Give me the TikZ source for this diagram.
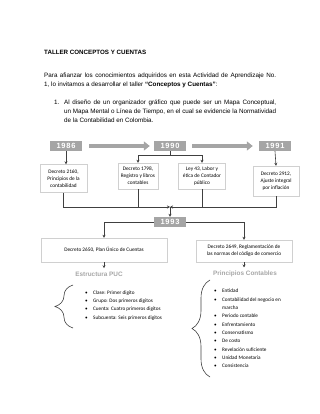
\documentclass[tikz,border=0pt]{standalone}
\usepackage{fontspec}
\setmainfont{Liberation Sans}
\newfontfamily\boxfont{Carlito}
\usetikzlibrary{arrows.meta,decorations.pathreplacing}
\definecolor{yeargray}{HTML}{A5A5A5}
\definecolor{linkgray}{HTML}{404040}
\definecolor{boxline}{HTML}{D0D0D0}
\definecolor{headgray}{HTML}{A6A6A6}
\newcommand{\bul}{\makebox[8pt][l]{\textbullet}}
\tikzset{
  year/.style={
    fill=yeargray,
    text=white,
    font=\bfseries\fontsize{7.5}{8}\selectfont\addfontfeature{LetterSpace=10},
    minimum width=32pt,
    minimum height=10pt,
    inner sep=0pt
  },
  infobox/.style={
    draw=boxline,
    fill=white,
    align=center,
    font=\boxfont\fontsize{5.3}{7}\selectfont,
    inner sep=2pt
  },
  link/.style={
    -{Stealth[length=3pt,width=3pt]},
    draw=linkgray,
    line width=0.6pt
  },
  plain/.style={
    draw=linkgray,
    line width=0.6pt
  },
  bigarrow/.style={
    -{Triangle[length=6pt,width=9pt]},
    draw=yeargray,
    line width=3.5pt
  },
  heading/.style={
    font=\bfseries\fontsize{6.4}{7}\selectfont,
    text=headgray
  },
  listing/.style={
    font=\boxfont\fontsize{5.2}{8.33}\selectfont,
    align=left,
    inner sep=0pt,
    anchor=north west
  },
  bracket/.style={
    decorate,
    decoration={brace, amplitude=18pt},
    draw=linkgray,
    line width=0.6pt
  },
  para/.style={
    font=\fontsize{6.3}{9}\selectfont,
    align=justify,
    inner sep=0pt,
    anchor=north west
  }
}

\begin{document}
\begin{tikzpicture}[x=1pt,y=-1pt]
\useasboundingbox (0,0) rectangle (320,414);

\node[inner sep=0pt, anchor=north west, font=\bfseries\fontsize{6.2}{7}\selectfont] (title) at (44,50) {TALLER CONCEPTOS Y CUENTAS};
\node[para, text width=232pt] (intro) at (44,73) {Para afianzar los conocimientos adquiridos en esta Actividad de Aprendizaje No.\linebreak 1, lo invitamos a desarrollar el taller \textbf{“Conceptos y Cuentas”}:};
\node[para, anchor=north west] (num) at (54,100) {1.};
\node[para, text width=212pt] (task) at (64,100) {Al diseño de un organizador gráfico que puede ser un Mapa Conceptual,\linebreak un Mapa Mental o Línea de Tiempo, en el cual se evidencie la Normatividad\linebreak de la Contabilidad en Colombia.};

\node[year] (y1986) at (66,146) {1986};
\node[year] (y1990) at (170,146) {1990};
\node[year] (y1991) at (275,146) {1991};

\node[infobox, minimum width=47pt, minimum height=28pt] (d2160) at (63.5,178.5) {Decreto 2160,\\Principios de la\\contabilidad};
\node[infobox, minimum width=40pt, minimum height=26pt] (d1798) at (138,176) {Decreto 1798,\\Registro y libros\\contables};
\node[infobox, minimum width=47pt, minimum height=26pt] (ley43) at (202,176) {Ley 43, Labor y\\ética de Contador\\público};
\node[infobox, minimum width=46pt, minimum height=30pt] (d2912) at (276,181) {Decreto 2912,\\Ajuste integral\\por inflación};

\coordinate (j1990) at (170,155);
\coordinate (merge) at (170,207);

\node[year] (y1993) at (170,222) {1993};

\node[infobox, minimum width=126pt, minimum height=24pt] (d2650) at (104,250) {Decreto 2650, Plan Único de Cuentas};
\node[infobox, minimum width=96pt, minimum height=22pt] (d2649) at (244,251) {Decreto 2649, Reglamentación de\\las normas del código de comercio};

\node[heading] (puc) at (99,274) {Estructura PUC};
\node[heading] (princ) at (245,274) {Principios Contables};

\node[listing] (pucitems) at (85,290.5) {
  \bul Clase: Primer digito\\
  \bul Grupo: Dos primeros digitos\\
  \bul Cuenta: Cuatro primeros digitos\\
  \bul Subcuenta: Seis primeros digitos
};
\node[listing] (princitems) at (214,289) {
  \bul Entidad\\
  \bul Contabilidad del negocio en\\
  \hspace*{8pt}marcha\\
  \bul Periodo contable\\
  \bul Enfrentamiento\\
  \bul Conservatismo\\
  \bul De costo\\
  \bul Revelación suficiente\\
  \bul Unidad Monetaria\\
  \bul Consistencia
};

\draw[bigarrow, shorten <=7pt, shorten >=4pt] (y1986) -- (y1990);
\draw[bigarrow, shorten <=6pt, shorten >=6pt] (y1990) -- (y1991);

\draw[link] (y1986.south) -- (y1986.south |- d2160.north);
\draw[plain] (y1990.south) -- (j1990);
\draw[link] (j1990) -| (d1798.north);
\draw[link] (j1990) -| (ley43.north);
\draw[link] (y1991.south) -- (d2912.north);

\draw[link] (d2160.south) |- (merge);
\draw[link] (d2912.south) |- (merge);
\draw[plain] (d1798.south) -- (d1798.south |- merge);
\draw[plain] (ley43.south) -- (ley43.south |- merge);
\draw[link] (merge) -- (y1993.north);

\draw[link] (y1993.west) -| (d2650.north);
\draw[link] (y1993.east) -| (d2649.north);
\draw[link] (d2650.south) -- (d2650.south |- puc.north);
\draw[link] (d2649.south) -- (d2649.south |- princ.north);

\draw[bracket] (73,328) -- (73,285);
\draw[bracket] (210,377) -- (210,280);

\end{tikzpicture}
\end{document}
